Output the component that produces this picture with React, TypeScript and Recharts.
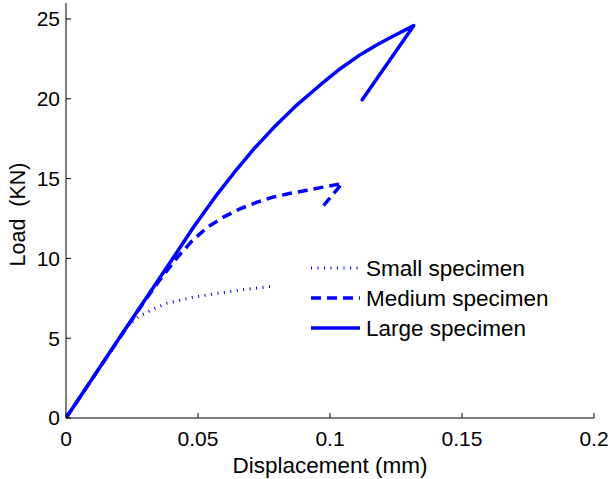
import React from 'react';
import { LineChart, Line, XAxis, YAxis, Legend } from 'recharts';

const smallX = [0, 0.01, 0.02, 0.0235, 0.0275, 0.0307, 0.0345, 0.0383, 0.0478, 0.0573, 0.0677, 0.0781];
const smallY = [0, 2.47, 4.94, 5.8, 6.35, 6.64, 6.93, 7.19, 7.55, 7.81, 8.05, 8.25];

const mediumX = [0, 0.01, 0.02, 0.03, 0.036, 0.0421, 0.0478, 0.0535, 0.0598, 0.0661, 0.0724, 0.0787, 0.085, 0.0914, 0.098, 0.1046, 0.0961];
const mediumY = [0, 2.47, 4.94, 7.38, 8.75, 10.05, 11.1, 11.95, 12.6, 13.12, 13.52, 13.85, 14.08, 14.27, 14.48, 14.69, 13.02];

const largeX = [0, 0.01, 0.02, 0.03, 0.04, 0.0484, 0.0565, 0.0636, 0.0711, 0.0787, 0.0875, 0.0964, 0.104, 0.1116, 0.118, 0.1242, 0.1317, 0.1122];
const largeY = [0, 2.48, 4.96, 7.43, 9.88, 11.98, 13.85, 15.35, 16.85, 18.2, 19.62, 20.88, 21.9, 22.78, 23.4, 23.95, 24.58, 19.94];

const xTicks = [0, 0.05, 0.1, 0.15, 0.2];
const xTickLabels = ['0', '0.05', '0.1', '0.15', '0.2'];
const yTicks = [0, 5, 10, 15, 20, 25];

const seriesNames = ['Small specimen', 'Medium specimen', 'Large specimen'];

const toPoints = (xs: number[], ys: number[]) => xs.map((x, i) => ({ x, y: ys[i] }));

const smallData = toPoints(smallX, smallY);
const mediumData = toPoints(mediumX, mediumY);
const largeData = toPoints(largeX, largeY);

const BLUE = '#0000ff';
const FONT = 'Liberation Sans, Arial, Helvetica, sans-serif';

const styles = [
  { strokeWidth: 3, dash: '1 5.5' },
  { strokeWidth: 3.5, dash: '10 6' },
  { strokeWidth: 3.5, dash: undefined as string | undefined },
];

const renderLegend = () => (
  <svg width={270} height={95} style={{ display: 'block' }}>
    {seriesNames.map((name, i) => {
      const cy = 14 + i * 30;
      return (
        <g key={name}>
          <line x1={6} x2={55} y1={cy} y2={cy} stroke={BLUE} strokeWidth={styles[i].strokeWidth} strokeDasharray={styles[i].dash} />
          <text x={61} y={cy} dy="0.36em" fontSize={22.5} fontFamily={FONT} fill="#000">{name}</text>
        </g>
      );
    })}
  </svg>
);

const YLabel = (props: any) => {
  const vb = props.viewBox || {};
  const cx = 17;
  const cy = vb.y + vb.height / 2 + 4;
  return (
    <text x={cx} y={cy} transform={`rotate(-90, ${cx}, ${cy})`} textAnchor="middle" dy="0.36em" fontSize={21.5} fontFamily={FONT} fill="#000">
      {'Load\u00a0\u00a0(KN)'}
    </text>
  );
};

export default function App() {
  return (
    <div style={{ position: 'absolute', left: 0, top: 0, width: 610, height: 479, background: '#fff' }}>
      <LineChart width={610} height={479} margin={{ top: 3, right: 16, bottom: 0, left: 0 }}>
        <XAxis
          xAxisId={0}
          dataKey="x"
          type="number"
          domain={[0, 0.2]}
          ticks={xTicks}
          tickFormatter={(v: number) => xTickLabels[xTicks.indexOf(v)] ?? String(v)}
          height={61}
          tickSize={-5}
          tickMargin={18}
          stroke="#000"
          tick={{ fill: '#000', fontSize: 21, fontFamily: FONT }}
          label={{ value: 'Displacement (mm)', position: 'insideBottom', offset: 6, fill: '#000', fontSize: 22.5, fontFamily: FONT }}
          allowDataOverflow
        />
        <XAxis
          xAxisId="top"
          orientation="top"
          type="number"
          domain={[0, 0.2]}
          ticks={xTicks}
          height={0}
          tickSize={-5}
          tick={false}
          stroke="#000"
        />
        <YAxis
          yAxisId={0}
          type="number"
          domain={[0, 26]}
          ticks={yTicks}
          width={66}
          tickSize={-5}
          tickMargin={11}
          stroke="#000"
          tick={{ fill: '#000', fontSize: 21, fontFamily: FONT }}
          label={<YLabel />}
          allowDataOverflow
        />
        <YAxis
          yAxisId="right"
          orientation="right"
          type="number"
          domain={[0, 26]}
          ticks={yTicks}
          width={0}
          tickSize={-5}
          tick={false}
          stroke="#000"
        />
        <Legend
          layout="horizontal"
          verticalAlign="middle"
          align="center"
          content={renderLegend}
          wrapperStyle={{ position: 'absolute', left: 305, top: 254, width: 270, height: 95 }}
        />
        <Line data={smallData} dataKey="y" name={seriesNames[0]} xAxisId={0} yAxisId={0} type="linear" stroke={BLUE} strokeWidth={styles[0].strokeWidth} strokeDasharray={styles[0].dash} dot={false} isAnimationActive={false} />
        <Line data={mediumData} dataKey="y" name={seriesNames[1]} xAxisId={0} yAxisId={0} type="linear" stroke={BLUE} strokeWidth={styles[1].strokeWidth} strokeDasharray={styles[1].dash} dot={false} isAnimationActive={false} />
        <Line data={largeData} dataKey="y" name={seriesNames[2]} xAxisId={0} yAxisId={0} type="linear" stroke={BLUE} strokeWidth={styles[2].strokeWidth} strokeLinecap="round" strokeLinejoin="round" dot={false} isAnimationActive={false} />
      </LineChart>
    </div>
  );
}
